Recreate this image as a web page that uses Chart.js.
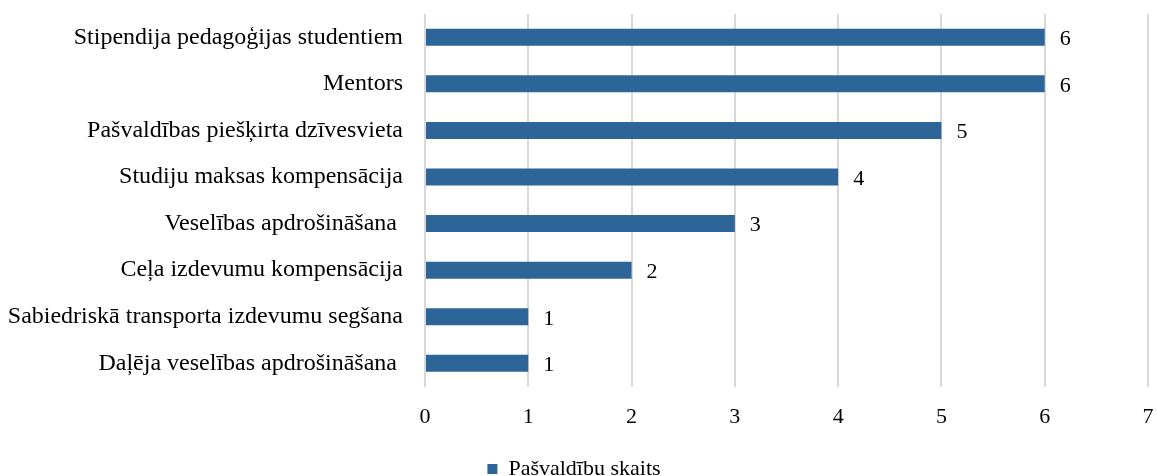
<!DOCTYPE html>
<html>
<head>
<meta charset="utf-8">
<script src="https://cdn.jsdelivr.net/npm/chart.js@4.4.0/dist/chart.umd.min.js"></script>
<style>
    html, body { margin: 0; padding: 0; background: #fff; }
    #wrap { width: 1157px; height: 476px; position: relative; overflow: hidden; }
</style>
</head>
<body>
<div id="wrap"><canvas id="benefitsChart"></canvas></div>
<script>
// categories top to bottom
const categories = [
    'Stipendija pedagoģijas studentiem',
    'Mentors',
    'Pašvaldības piešķirta dzīvesvieta',
    'Studiju maksas kompensācija',
    'Veselības apdrošināšana ',
    'Ceļa izdevumu kompensācija',
    'Sabiedriskā transporta izdevumu segšana',
    'Daļēja veselības apdrošināšana '
];
const counts = [6, 6, 5, 4, 3, 2, 1, 1];
const seriesName = 'Pašvaldību skaits';
const xTicks = [0, 1, 2, 3, 4, 5, 6, 7];

const serif = "'Liberation Serif', 'Times New Roman', serif";
const barColor = '#2e6598';

// value labels right of each bar end
const valueLabels = {
    id: 'valueLabels',
    afterDatasetsDraw(chart) {
        const { ctx } = chart;
        const meta = chart.getDatasetMeta(0);
        ctx.save();
        ctx.font = `22px ${serif}`;
        ctx.fillStyle = '#000';
        ctx.textAlign = 'left';
        ctx.textBaseline = 'middle';
        meta.data.forEach((bar, i) => {
            ctx.fillText(String(counts[i]), bar.x + 15, bar.y + 2);
        });
        ctx.restore();
    }
};

new Chart(document.getElementById('benefitsChart'), {
    type: 'bar',
    data: {
        labels: categories,
        datasets: [{
            label: seriesName,
            data: counts,
            backgroundColor: barColor,
            borderWidth: 0,
            barPercentage: 0.73,
            categoryPercentage: 0.5
        }]
    },
    options: {
        indexAxis: 'y',
        responsive: true,
        maintainAspectRatio: false,
        animation: false,
        layout: { padding: { top: 14, right: 9, left: 0, bottom: -14 } },
        scales: {
            x: {
                min: 0,
                max: 7,
                afterBuildTicks: scale => { scale.ticks = xTicks.map(v => ({ value: v })); },
                afterFit: scale => { scale.paddingLeft = 0; scale.paddingRight = 0; },
                grid: { color: '#d9d9d9', lineWidth: 2, drawTicks: false },
                border: { display: false },
                ticks: {
                    padding: 17,
                    color: '#000',
                    font: { family: serif, size: 22 }
                }
            },
            y: {
                grid: { display: false, drawTicks: false },
                border: { display: false },
                afterFit: scale => {
                    scale.width = 425;
                    scale.paddingTop = 0;
                    scale.paddingBottom = 0;
                },
                ticks: {
                    padding: 22,
                    color: '#000',
                    font: { family: serif, size: 24 }
                }
            }
        },
        plugins: {
            legend: {
                position: 'bottom',
                labels: {
                    color: '#000',
                    boxWidth: 10,
                    boxHeight: 10,
                    padding: 11,
                    font: { family: serif, size: 22 }
                }
            },
            tooltip: { enabled: false }
        }
    },
    plugins: [valueLabels]
});
</script>
</body>
</html>
